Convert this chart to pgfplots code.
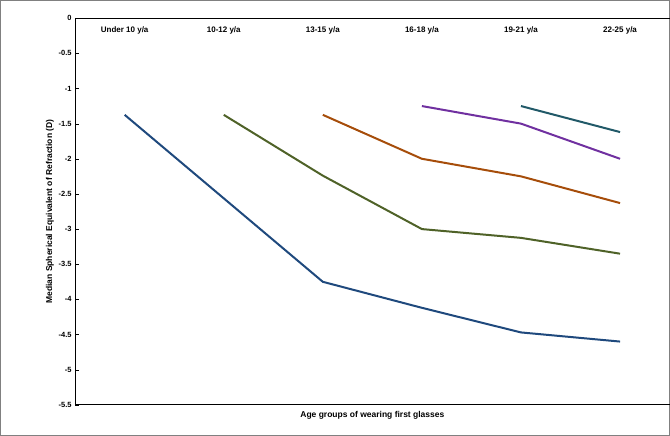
\documentclass[border=0pt]{standalone}
\usepackage{pgfplots}
\pgfplotsset{compat=1.18}
\usepackage{fontspec}
\setmainfont{Liberation Sans}
\begin{document}
\begin{tikzpicture}
\draw[black!50] (0,0) rectangle (670pt,435pt);
\begin{axis}[at={(75pt,30pt)},anchor=south west,
 width=595pt,height=387pt,scale only axis,
 xmin=0,xmax=6,ymin=-5.5,ymax=0,
 axis x line*=top, axis y line*=left,
 xtick=\empty,
 ytick={-5.5,-5,...,0},
 yticklabel style={font=\bfseries\fontsize{7.5}{9}\selectfont},
 /pgf/number format/assume math mode=true,
 yticklabel={\pgfmathprintnumber[fixed,precision=1]{\tick}},
 ylabel={\bfseries Median Spherical Equivalent of Refraction (D)},
 ylabel style={font=\fontsize{8.5}{10}\selectfont,yshift=-2pt},
 xlabel={\bfseries Age groups of wearing first glasses},
 x label style={at={(axis description cs:0.5,0)},anchor=north,font=\fontsize{8.5}{10}\selectfont,yshift=-3pt},
 tick style={black},
 axis line style={black},
 clip=false]
\foreach \n/\l in {0.5/{Under 10 y\slash a},1.5/{10-12 y\slash a},2.5/{13-15 y\slash a},3.5/{16-18 y\slash a},4.5/{19-21 y\slash a},5.5/{22-25 y\slash a}}{
 \edef\tmp{\noexpand\node[font=\noexpand\bfseries\noexpand\fontsize{8}{10}\noexpand\selectfont] at (axis cs:\n,-0.18) {\unexpanded\expandafter{\l}};}\tmp}
\draw[black,line width=0.8pt] (axis cs:0,-5.5)--(axis cs:6,-5.5);
\addplot[line width=2pt,color={rgb,255:red,31;green,73;blue,125}] coordinates {(0.5,-1.375)(2.5,-3.75)(3.5,-4.12)(4.5,-4.47)(5.5,-4.6)};
\addplot[line width=2pt,color={rgb,255:red,79;green,98;blue,40}] coordinates {(1.5,-1.375)(2.5,-2.24)(3.5,-3.0)(4.5,-3.125)(5.5,-3.35)};
\addplot[line width=2pt,color={rgb,255:red,166;green,77;blue,10}] coordinates {(2.5,-1.375)(3.5,-2.0)(4.5,-2.25)(5.5,-2.63)};
\addplot[line width=2pt,color={rgb,255:red,112;green,48;blue,160}] coordinates {(3.5,-1.25)(4.5,-1.5)(5.5,-2.0)};
\addplot[line width=2pt,color={rgb,255:red,33;green,89;blue,104}] coordinates {(4.5,-1.25)(5.5,-1.62)};
\end{axis}
\end{tikzpicture}
\end{document}
